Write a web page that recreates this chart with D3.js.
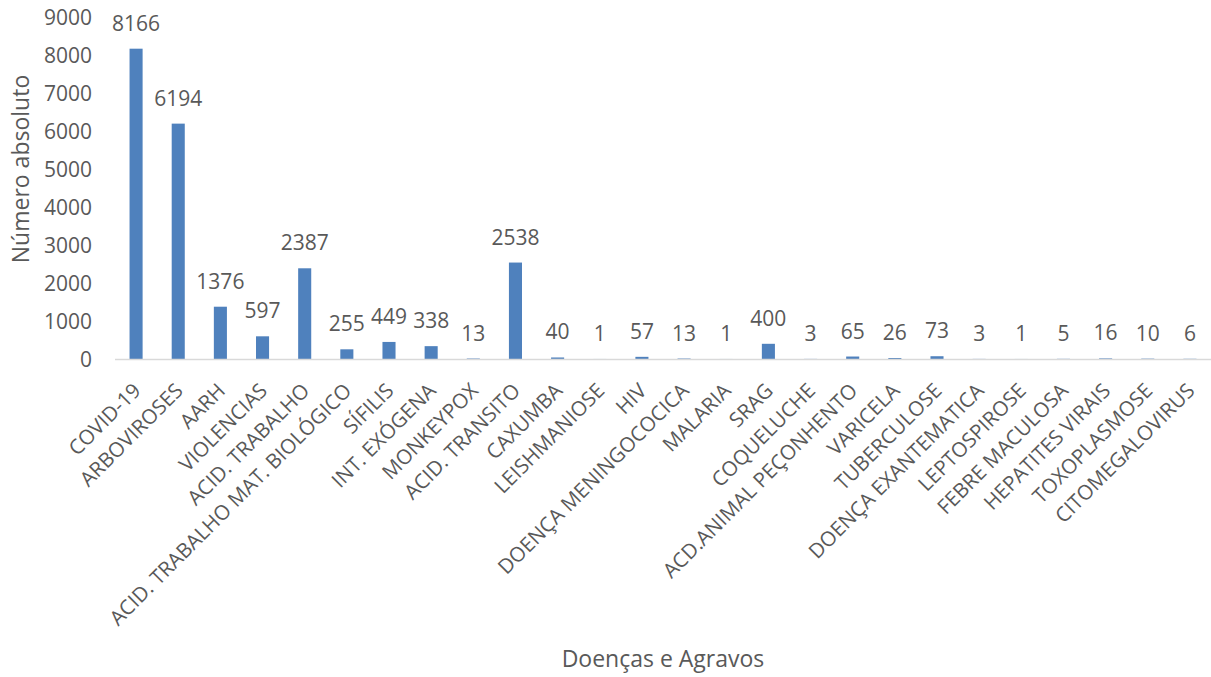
<!DOCTYPE html>
<html>
<head>
<meta charset="utf-8">
<script src="https://cdn.jsdelivr.net/npm/d3@7"></script>
<style>
  html, body { margin: 0; padding: 0; background: #fff; }
  svg text { font-family: "Open Sans", "Liberation Sans", sans-serif; fill: #595959; }
</style>
</head>
<body>
<svg id="chart" width="1211" height="677"></svg>
<script>
// Casos notificados por doença/agravo
const categories = [
  "COVID-19", "ARBOVIROSES", "AARH", "VIOLENCIAS", "ACID. TRABALHO",
  "ACID. TRABALHO MAT. BIOLÓGICO", "SÍFILIS", "INT. EXÓGENA", "MONKEYPOX",
  "ACID. TRANSITO", "CAXUMBA", "LEISHMANIOSE", "HIV", "DOENÇA MENINGOCOCICA",
  "MALARIA", "SRAG", "COQUELUCHE", "ACD.ANIMAL PEÇONHENTO", "VARICELA",
  "TUBERCULOSE", "DOENÇA EXANTEMATICA", "LEPTOSPIROSE", "FEBRE MACULOSA",
  "HEPATITES VIRAIS", "TOXOPLASMOSE", "CITOMEGALOVIRUS"
];
const values = [
  8166, 6194, 1376, 597, 2387, 255, 449, 338, 13, 2538, 40, 1, 57, 13,
  1, 400, 3, 65, 26, 73, 3, 1, 5, 16, 10, 6
];
const yTicks = [0, 1000, 2000, 3000, 4000, 5000, 6000, 7000, 8000, 9000];
const yTitle = "Número absoluto";
const xTitle = "Doenças e Agravos";

const svg = d3.select("#chart");
const plot = { left: 115, right: 1211, top: 17, bottom: 359 };

const x = d3.scaleBand()
  .domain(categories)
  .range([plot.left, plot.right])
  .paddingInner(0.69)
  .paddingOuter(0.345);

const y = d3.scaleLinear()
  .domain([0, 9000])
  .range([plot.bottom, plot.top]);

// Y axis tick labels (no axis line, no gridlines)
const yAxis = d3.axisLeft(y).tickValues(yTicks).tickFormat(d3.format("d"))
  .tickSize(0).tickPadding(0);
const yg = svg.append("g")
  .attr("transform", "translate(92,0)")
  .call(yAxis);
yg.select(".domain").remove();
yg.selectAll("text")
  .style("font-size", "21px")
  .attr("fill", "#595959")
  .attr("dy", "0.35em");

// Bars
svg.append("g").selectAll("rect")
  .data(values)
  .join("rect")
  .attr("x", (d, i) => x(categories[i]))
  .attr("width", x.bandwidth())
  .attr("y", d => y(d))
  .attr("height", d => y(0) - y(d))
  .attr("fill", "#4f81bd");

// Baseline
svg.append("line")
  .attr("x1", plot.left).attr("x2", plot.right)
  .attr("y1", y(0) + 0.5).attr("y2", y(0) + 0.5)
  .attr("stroke", "#d9d9d9")
  .attr("stroke-width", 1.5);

// Value labels
svg.append("g").selectAll("text")
  .data(values)
  .join("text")
  .attr("x", (d, i) => x(categories[i]) + x.bandwidth() / 2)
  .attr("y", d => y(d) - 18)
  .attr("text-anchor", "middle")
  .style("font-size", "21px")
  .text(d => d);

// Category labels rotated -45°
const xAxis = d3.axisBottom(x).tickSize(0).tickPadding(0);
const xg = svg.append("g")
  .attr("transform", `translate(0,${plot.bottom})`)
  .call(xAxis);
xg.select(".domain").remove();
xg.selectAll("text")
  .style("font-size", "20.5px")
  .attr("fill", "#595959")
  .attr("text-anchor", "end")
  .attr("dy", null)
  .attr("y", 0)
  .attr("transform", "translate(6,33) rotate(-45)");

// Axis titles
svg.append("text")
  .attr("transform", `translate(29,169) rotate(-90)`)
  .attr("text-anchor", "middle")
  .style("font-size", "23px")
  .text(yTitle);

svg.append("text")
  .attr("x", 663)
  .attr("y", 667)
  .attr("text-anchor", "middle")
  .style("font-size", "23px")
  .text(xTitle);
</script>
</body>
</html>
